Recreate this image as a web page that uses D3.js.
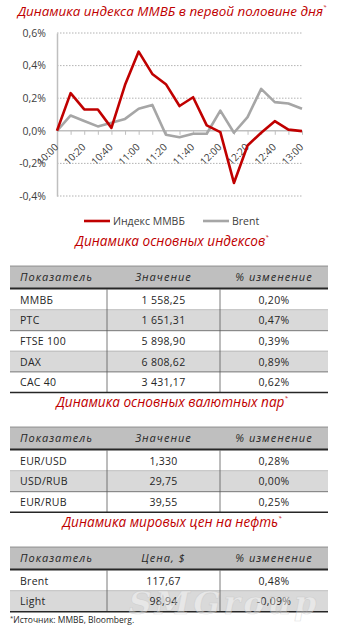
<!DOCTYPE html>
<html><head><meta charset="utf-8">
<script src="https://cdn.jsdelivr.net/npm/d3@7"></script>
<style>
html,body{margin:0;padding:0;background:#fff;}
svg{display:block;}
</style></head>
<body>
<script>
// ---------- data ----------
const times = ["10:00","10:10","10:20","10:30","10:40","10:50","11:00","11:10","11:20","11:30","11:40","11:50","12:00","12:10","12:20","12:30","12:40","12:50","13:00"];
const micex = [0, 0.231, 0.131, 0.131, 0.018, 0.282, 0.486, 0.349, 0.286, 0.152, 0.206, 0.033, -0.008, -0.32, -0.09, -0.012, 0.059, 0.007, -0.002];
const brent = [0, 0.094, 0.06, 0.027, 0.049, 0.073, 0.135, 0.159, -0.024, -0.039, -0.018, -0.018, 0.124, -0.012, 0.084, 0.257, 0.176, 0.167, 0.135];
const yTicks = [-0.4, -0.2, 0, 0.2, 0.4, 0.6];
const seriesNames = ["Индекс ММВБ", "Brent"];

const titles = ["Динамика индекса ММВБ в первой половине дня", "Динамика основных индексов", "Динамика основных валютных пар", "Динамика мировых цен на нефть"];

const idxHeader = ["Показатель", "Значение", "% изменение"];
const idxNames = ["ММВБ", "РТС", "FTSE 100", "DAX", "CAC 40"];
const idxValues = ["1 558,25", "1 651,31", "5 898,90", "6 808,62", "3 431,17"];
const idxChanges = ["0,20%", "0,47%", "0,39%", "0,89%", "0,62%"];

const fxHeader = ["Показатель", "Значение", "% изменение"];
const fxNames = ["EUR/USD", "USD/RUB", "EUR/RUB"];
const fxValues = ["1,330", "29,75", "39,55"];
const fxChanges = ["0,28%", "0,00%", "0,25%"];

const oilHeader = ["Показатель", "Цена, $", "% изменение"];
const oilNames = ["Brent", "Light"];
const oilValues = ["117,67", "98,94"];
const oilChanges = ["0,48%", "-0,09%"];

const footnote = "Источник: ММВБ, Bloomberg.";
const watermark = "SMGroup";

// ---------- drawing ----------
const W = 342, H = 629;
const svg = d3.select("body").append("svg").attr("width", W).attr("height", H);
svg.append("rect").attr("width", W).attr("height", H).attr("fill", "#fff");

const RED = "#c00000", GRAY = "#a6a6a6", TXT = "#404040";
const FONT = "'Open Sans', 'Noto Sans', sans-serif";

function title(text, y, size) {
  const t = svg.append("text").attr("x", 172).attr("y", y).attr("text-anchor", "middle")
    .attr("font-family", FONT).attr("font-style", "italic").attr("font-size", size)
    .attr("fill", RED);
  t.append("tspan").text(text);
  t.append("tspan").attr("dy", -7).attr("font-size", 6).text("*");
}

title(titles[0], 16, 13.4);

const x = d3.scaleLinear().domain([0, times.length - 1]).range([57, 302]);
const y = d3.scaleLinear().domain([-0.4, 0.6]).range([196, 33]);

// gridlines
svg.append("g").selectAll("line").data(yTicks.filter(d => d !== 0)).join("line")
  .attr("x1", 57).attr("x2", 302).attr("y1", d => y(d)).attr("y2", d => y(d))
  .attr("stroke", "#a0a0a0").attr("stroke-width", 0.8).attr("stroke-dasharray", "1.5,1.5");

// y axis
const yAxis = d3.axisLeft(y).tickValues(yTicks).tickSize(0).tickPadding(11)
  .tickFormat(d => d3.format(".1f")(d).replace(".", ",").replace("−", "-") + "%");
const gy = svg.append("g").attr("transform", "translate(57,0)").call(yAxis);
gy.select(".domain").attr("stroke", "#bfbfbf").attr("stroke-width", 1.5);
gy.selectAll("text").attr("font-family", FONT).attr("font-size", 10.5).attr("fill", TXT);

// x axis at zero
const xAxis = d3.axisBottom(x).tickValues(d3.range(times.length)).tickSize(4).tickFormat(() => "");
const gx = svg.append("g").attr("transform", `translate(0,${y(0)})`).call(xAxis);
gx.select(".domain").attr("stroke", "#bfbfbf").attr("stroke-width", 1.5).attr("d", `M57,0H302`);
gx.selectAll(".tick line").attr("stroke", "#bfbfbf");

svg.append("g").selectAll("text").data(times.map((t, i) => [t, i]).filter(d => d[1] % 2 === 0)).join("text")
  .attr("transform", d => `translate(${x(d[1]) + 2},${y(0) + 17}) rotate(-45)`)
  .attr("text-anchor", "end")
  .attr("font-family", FONT).attr("font-size", 10).attr("fill", TXT)
  .text(d => d[0]);

const line = d3.line().x((d, i) => x(i)).y(d => y(d));
svg.append("path").datum(brent).attr("d", line).attr("fill", "none").attr("stroke", GRAY).attr("stroke-width", 2.6).attr("stroke-linejoin", "round");
svg.append("path").datum(micex).attr("d", line).attr("fill", "none").attr("stroke", RED).attr("stroke-width", 2.6).attr("stroke-linejoin", "round");

// legend
const leg = [[84, RED], [203, GRAY]];
leg.forEach((l, i) => {
  svg.append("line").attr("x1", l[0]).attr("x2", l[0] + 26).attr("y1", 221).attr("y2", 221)
    .attr("stroke", l[1]).attr("stroke-width", 2.6);
  svg.append("text").attr("x", l[0] + 29).attr("y", 225).attr("font-family", FONT)
    .attr("font-size", 10.5).attr("fill", TXT).text(seriesNames[i]);
});

// tables
const colX = [10, 107, 220, 328];
function table(top, header, names, vals, chg) {
  const hh = 22, rh = 20.6;
  svg.append("rect").attr("x", colX[0]).attr("y", top).attr("width", colX[3] - colX[0]).attr("height", hh).attr("fill", "#bfbfbf");
  svg.append("line").attr("x1", colX[0]).attr("x2", colX[3]).attr("y1", top).attr("y2", top).attr("stroke", "#7f7f7f").attr("stroke-width", 0.8);
  const hx = [20, (colX[1] + colX[2]) / 2, (colX[2] + colX[3]) / 2];
  header.forEach((h, i) => {
    svg.append("text").attr("x", hx[i]).attr("y", top + hh / 2 + 4).attr("text-anchor", i === 0 ? "start" : "middle")
      .attr("font-family", FONT).attr("font-style", "italic").attr("font-size", 11).attr("fill", "#262626")
      .attr("letter-spacing", 1).text(h);
  });
  const r0 = top + hh + 1.5;
  names.forEach((n, i) => {
    const ry = r0 + i * rh;
    if (i % 2 === 1) svg.append("rect").attr("x", colX[0]).attr("y", ry).attr("width", colX[3] - colX[0]).attr("height", rh).attr("fill", "#d9d9d9");
    svg.append("text").attr("x", 20).attr("y", ry + rh / 2 + 4).attr("font-family", FONT).attr("font-size", 10.5).attr("fill", "#262626").attr("letter-spacing", 0.3).text(n);
    svg.append("text").attr("x", hx[1]).attr("y", ry + rh / 2 + 4).attr("text-anchor", "middle").attr("font-family", FONT).attr("font-size", 10.5).attr("fill", "#262626").attr("letter-spacing", 0.3).text(vals[i]);
    svg.append("text").attr("x", hx[2]).attr("y", ry + rh / 2 + 4).attr("text-anchor", "middle").attr("font-family", FONT).attr("font-size", 10.5).attr("fill", "#262626").attr("letter-spacing", 0.3).text(chg[i]);
    if (i < names.length - 1)
      svg.append("line").attr("x1", colX[0]).attr("x2", colX[3]).attr("y1", ry + rh).attr("y2", ry + rh).attr("stroke", "#595959").attr("stroke-width", 0.8);
  });
  const bottom = r0 + names.length * rh;
  [colX[1], colX[2]].forEach(cx => svg.append("line").attr("x1", cx).attr("x2", cx).attr("y1", r0).attr("y2", bottom).attr("stroke", "#595959").attr("stroke-width", 0.8));
  svg.append("line").attr("x1", colX[0]).attr("x2", colX[3]).attr("y1", top + hh + 0.5).attr("y2", top + hh + 0.5).attr("stroke", "#262626").attr("stroke-width", 1.8);
  svg.append("line").attr("x1", colX[0]).attr("x2", colX[3]).attr("y1", bottom).attr("y2", bottom).attr("stroke", "#262626").attr("stroke-width", 1.5);
}

title(titles[1], 246, 13.6);
table(266, idxHeader, idxNames, idxValues, idxChanges);
title(titles[2], 407, 13.6);
table(427, fxHeader, fxNames, fxValues, fxChanges);
title(titles[3], 527, 13.6);
table(547, oilHeader, oilNames, oilValues, oilChanges);

const fn = svg.append("text").attr("x", 10).attr("y", 623).attr("font-family", FONT).attr("font-size", 8.5).attr("fill", "#262626");
fn.append("tspan").attr("font-size", 6).attr("dy", -3).text("*");
fn.append("tspan").attr("dy", 3).text(footnote);

// faint embossed watermark over the bottom of the last table
svg.append("text").attr("x", 224).attr("y", 614).attr("text-anchor", "middle")
  .attr("font-family", "'DejaVu Serif', serif").attr("font-style", "italic").attr("font-weight", "bold")
  .attr("font-size", 32).attr("letter-spacing", 3)
  .attr("fill", "#ffffff").attr("fill-opacity", 0.4)
  .attr("stroke", "#bdbdbd").attr("stroke-opacity", 0.5).attr("stroke-width", 0.6)
  .attr("pointer-events", "none")
  .text(watermark);
</script>
</body></html>
